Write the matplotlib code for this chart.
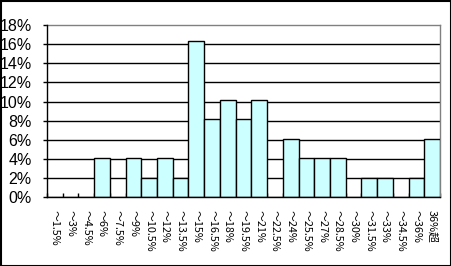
import matplotlib
matplotlib.use("Agg")
import matplotlib.pyplot as plt
from matplotlib.patches import Rectangle
import numpy as np

plt.rcParams['font.family'] = ['Noto Sans CJK JP', 'DejaVu Sans']

categories = ["～1.5%", "～3%", "～4.5%", "～6%", "～7.5%", "～9%", "～10.5%", "～12%",
              "～13.5%", "～15%", "～16.5%", "～18%", "～19.5%", "～21%", "～22.5%",
              "～24%", "～25.5%", "～27%", "～28.5%", "～30%", "～31.5%", "～33%",
              "～34.5%", "～36%", "36%超"]
values = [0, 0, 0, 4.08, 0, 4.08, 2.04, 4.08, 2.04, 16.33, 8.16, 10.2, 8.16, 10.2,
          0, 6.12, 4.08, 4.08, 4.08, 0, 2.04, 2.04, 0, 2.04, 6.12]
yticks = [0, 2, 4, 6, 8, 10, 12, 14, 16, 18]

fig = plt.figure(figsize=(4.52, 2.66), dpi=100)
ax = fig.add_axes([47/452, 1-197.3/266, 393/452, 172.3/266])

x = np.arange(len(categories))
ax.bar(x, values, width=1.0, color="#CCFFFF", edgecolor="black", linewidth=1.0, zorder=3)

ax.set_xlim(-0.5, len(categories)-0.5)
ax.set_ylim(0, 18)
ax.set_yticks(yticks)
ax.set_yticklabels([f"{v}%" for v in yticks], fontsize=11.5, family=['Liberation Sans'])
for v in yticks[1:-1]:
    ax.axhline(v, color="black", linewidth=1.0, zorder=1)

ax.set_xticks(np.arange(len(categories)+1)-0.5, minor=True)
ax.set_xticks(x)
ax.set_xticklabels(categories, rotation=-90, fontsize=7.8, va="top", ha="center")
ax.tick_params(axis="x", which="major", length=0, pad=9)
ax.tick_params(axis="x", which="minor", direction="in", length=3, width=1, color="black")
ax.tick_params(axis="y", which="major", direction="out", length=3, width=1, pad=8)

for s in ["top", "right"]:
    ax.spines[s].set_color("#808080")
    ax.spines[s].set_linewidth(1.0)
for s in ["left", "bottom"]:
    ax.spines[s].set_color("black")
    ax.spines[s].set_linewidth(1.0)
    ax.spines[s].set_zorder(4)

fig.patches.append(Rectangle((0.5/452, 0.5/266), 450.5/452, 264.5/266, transform=fig.transFigure,
                             fill=False, edgecolor="black", linewidth=1.5))

fig.savefig("out.png", dpi=100)
